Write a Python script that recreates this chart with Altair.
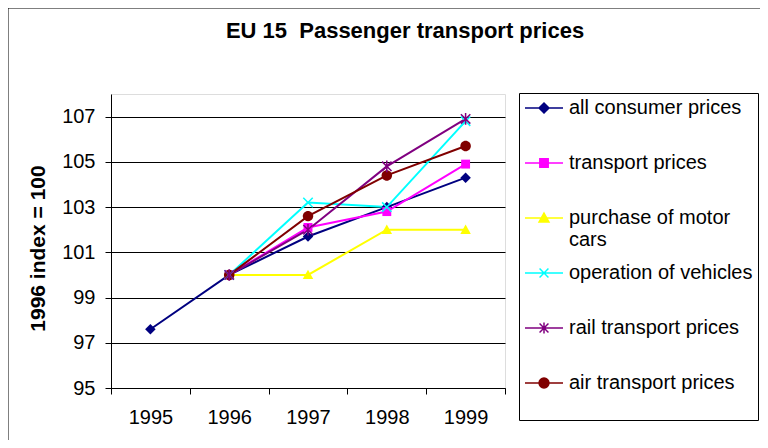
import altair as alt
import pandas as pd

years = ["1995", "1996", "1997", "1998", "1999"]
series = ["all consumer prices", "transport prices", "purchase of motor cars",
          "operation of vehicles", "rail transport prices", "air transport prices"]
all_consumer = [97.6, 100.0, 101.7, 103.0, 104.3]
transport = [None, 100.0, 102.1, 102.8, 104.9]
purchase_cars = [None, 100.0, 100.0, 102.0, 102.0]
operation = [None, 100.0, 103.2, 103.0, 106.8]
rail = [None, 100.0, 102.0, 104.8, 106.9]
air = [None, 100.0, 102.6, 104.4, 105.7]
y_ticks = [95, 97, 99, 101, 103, 105, 107]

colors = ["#000080", "#FF00FF", "#FFFF00", "#00FFFF", "#800080", "#800000"]
hollow = ["operation of vehicles", "rail transport prices"]

values = [all_consumer, transport, purchase_cars, operation, rail, air]
rows = []
for name, vals in zip(series, values):
    for yr, v in zip(years, vals):
        if v is not None:
            rows.append({"year": yr, "series": name, "value": v})
df = pd.DataFrame(rows)


def P(pts, close=True):
    s = "M" + "L".join(f"{x:.3f},{y:.3f}" for x, y in pts)
    return s + ("Z" if close else "")


def circle(r):
    return f"M{r:.3f},0A{r:.3f},{r:.3f} 0 1 1 {-r:.3f},0A{r:.3f},{r:.3f} 0 1 1 {r:.3f},0Z"


def marker_paths(s):
    return [
        P([(0, -s), (s, 0), (0, s), (-s, 0)]),
        P([(-0.85 * s, -0.85 * s), (0.85 * s, -0.85 * s), (0.85 * s, 0.85 * s), (-0.85 * s, 0.85 * s)]),
        P([(0, -s), (s, 0.8 * s), (-s, 0.8 * s)]),
        P([(-0.9 * s, -0.9 * s), (0.9 * s, 0.9 * s)], False) + P([(-0.9 * s, 0.9 * s), (0.9 * s, -0.9 * s)], False),
        P([(-0.9 * s, -0.9 * s), (0.9 * s, 0.9 * s)], False) + P([(-0.9 * s, 0.9 * s), (0.9 * s, -0.9 * s)], False)
        + P([(0, -1.1 * s), (0, 1.1 * s)], False),
        circle(s),
    ]


markers = marker_paths(1.0)
legend_paths = ["M-1,0H1" + m for m in marker_paths(0.26)]

FONT = "Liberation Sans"

x_enc = alt.X("year:N", sort=years, scale=alt.Scale(domain=years, paddingInner=0, paddingOuter=0),
              axis=alt.Axis(title=None, labelAngle=0, tickBand="extent", labelFontSize=20,
                            labelFont=FONT, labelColor="black", tickColor="black", domainColor="black",
                            tickSize=6, labelPadding=13, grid=False))
y_enc = alt.Y("value:Q", scale=alt.Scale(domain=[95, 108], nice=False, zero=False),
              axis=alt.Axis(values=y_ticks, title="1996 index = 100", titleFontSize=21,
                            titleFont=FONT, titleFontWeight="bold", titleColor="black",
                            titleX=-73, titleY=154, titleAngle=270, titleBaseline="middle",
                            titleAlign="center",
                            labelFontSize=20, labelFont=FONT, labelColor="black",
                            tickColor="black", domainColor="black", tickSize=6, labelPadding=10,
                            grid=True, gridColor="black", gridWidth=1, gridOpacity=1))

lines = alt.Chart(df).mark_line(strokeWidth=2).encode(
    x=x_enc, y=y_enc,
    color=alt.Color("series:N", scale=alt.Scale(domain=series, range=colors), legend=None),
)

shape_scale = alt.Scale(domain=series, range=markers)

points_filled = alt.Chart(df).transform_filter(
    alt.FieldOneOfPredicate(field="series", oneOf=[s for s in series if s not in hollow])
).mark_point(filled=True, size=110, opacity=1).encode(
    x=alt.X("year:N", sort=years),
    y="value:Q",
    shape=alt.Shape("series:N", scale=shape_scale, legend=None),
    color=alt.Color("series:N", scale=alt.Scale(domain=series, range=colors), legend=None),
)

points_hollow = alt.Chart(df).transform_filter(
    alt.FieldOneOfPredicate(field="series", oneOf=hollow)
).mark_point(filled=False, size=110, opacity=1, strokeWidth=1.5).encode(
    x=alt.X("year:N", sort=years),
    y="value:Q",
    shape=alt.Shape("series:N", scale=shape_scale, legend=None),
    color=alt.Color("series:N", scale=alt.Scale(domain=series, range=colors), legend=None),
)

leg = alt.Legend(
    title=None, orient="none", legendX=408, legendY=-1,
    direction="vertical", symbolSize=1444, symbolStrokeWidth=1.5,
    labelFontSize=20, labelFont=FONT, labelColor="black", labelLimit=400,
    labelOffset=5, labelBaseline="middle",
    labelExpr="datum.label == 'purchase of motor cars' ? ['purchase of motor', 'cars'] : [datum.label, '']",
    strokeColor="black", fillColor="white", padding=5, cornerRadius=0,
    clipHeight=20, rowPadding=13, symbolOpacity=1,
)

legend_layer = alt.Chart(df).transform_filter("false").mark_point(filled=True, opacity=1, strokeWidth=1.5).encode(
    color=alt.Color("series:N", scale=alt.Scale(domain=series, range=colors), legend=leg),
    stroke=alt.Stroke("series:N", scale=alt.Scale(domain=series, range=colors), legend=leg),
    shape=alt.Shape("series:N", scale=alt.Scale(domain=series, range=legend_paths), legend=leg),
)

frame = alt.Chart(pd.DataFrame({"a": [0]})).mark_rect(fill=None, stroke="black", strokeWidth=1).encode(
    x=alt.value(-103), x2=alt.value(700), y=alt.value(-86), y2=alt.value(400)
)

chart = alt.layer(frame, lines, points_filled, points_hollow, legend_layer).resolve_scale(
    shape="independent", color="independent", stroke="independent"
).properties(
    width=394, height=294,
    padding={"left": 103, "top": 86, "right": 255, "bottom": 52},
    autosize=alt.AutoSizeParams(type="none"),
    title=alt.Title("EU 15\u00a0 Passenger transport prices", fontSize=22, fontWeight="bold",
                    font=FONT, color="black", anchor="middle", frame="group", dx=97, offset=0,
                    baseline="alphabetic", dy=52),
).configure_view(fill="#C0C0C0", stroke="#808080", strokeWidth=1).configure(background="white")

chart.save("out.html", embed_options={"renderer": "svg", "actions": False})
